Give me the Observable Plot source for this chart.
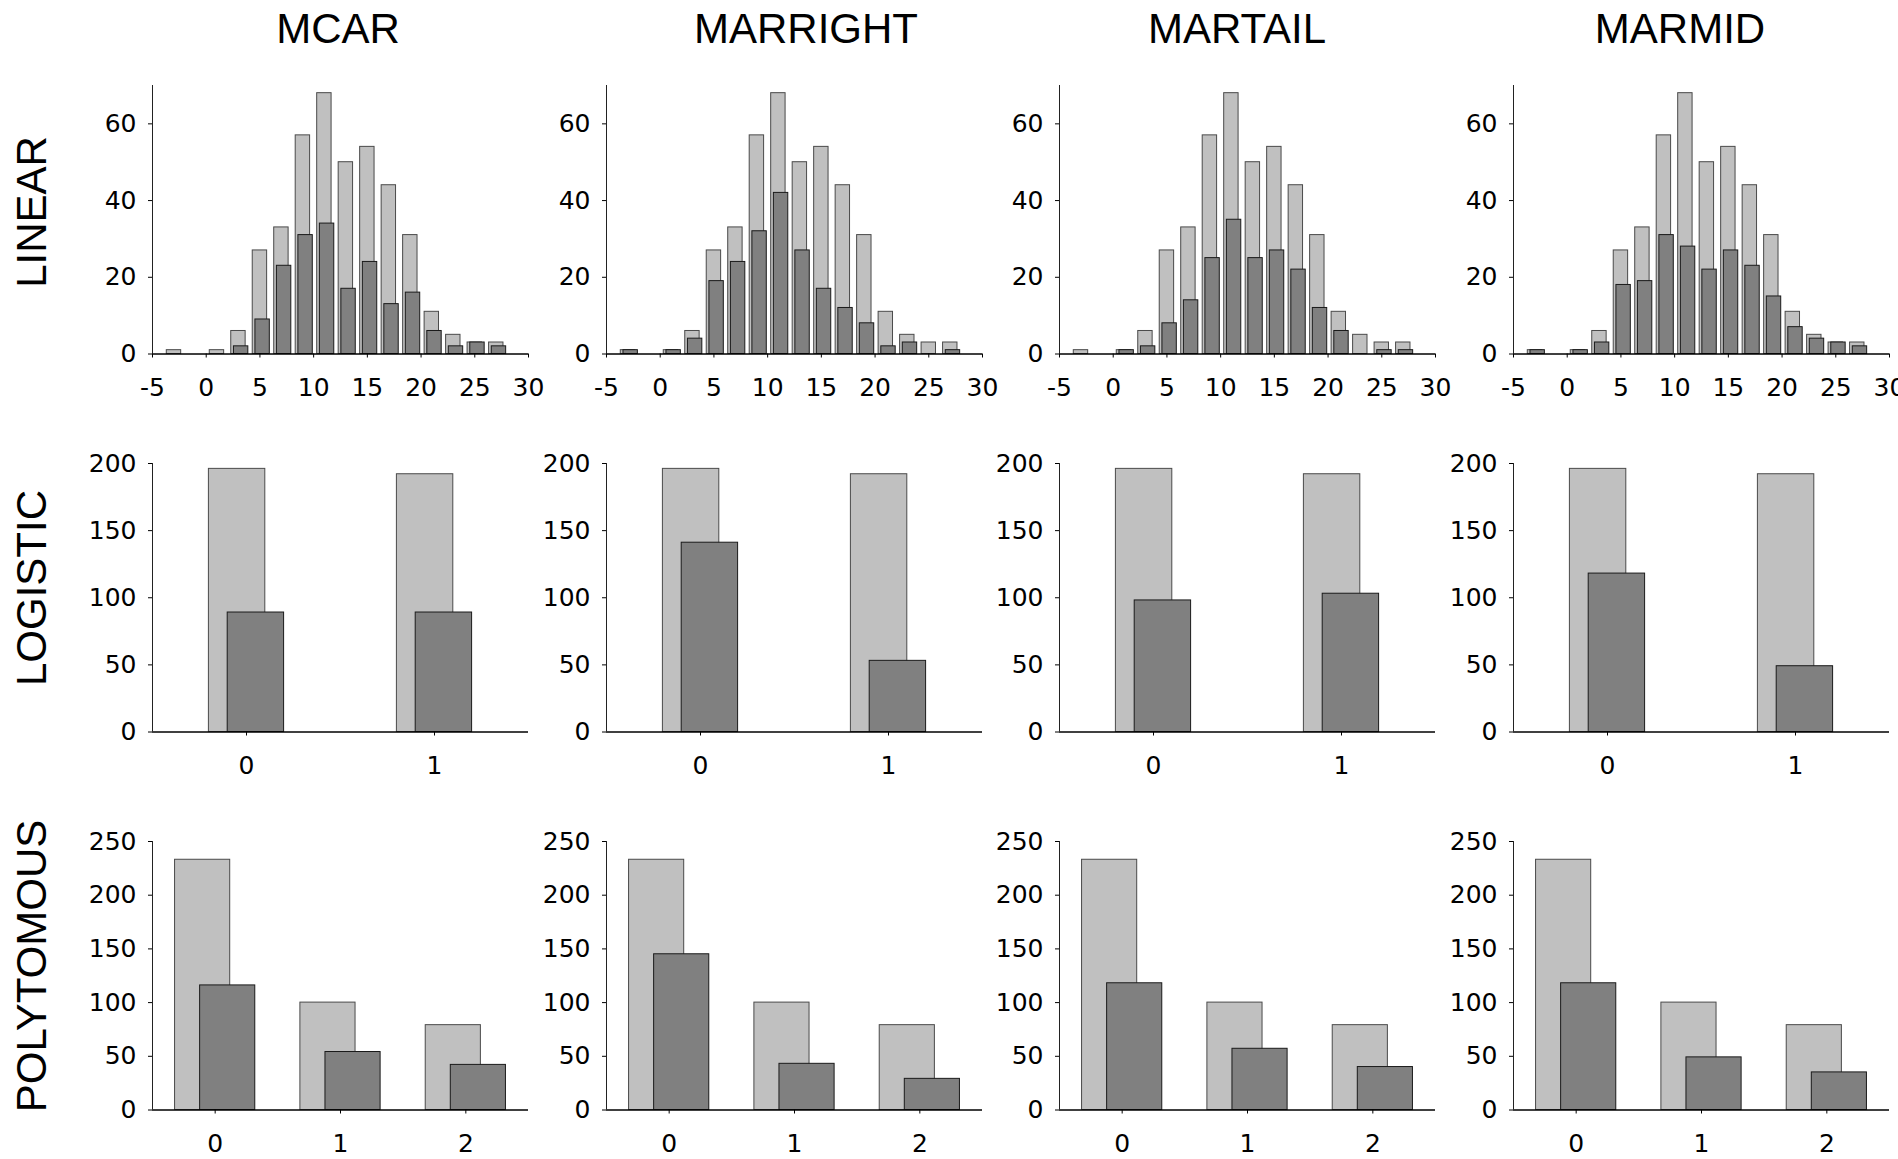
<!DOCTYPE html>
<html>
<head>
<meta charset="utf-8">
<script src="https://cdn.jsdelivr.net/npm/d3@7"></script>
<script src="https://cdn.jsdelivr.net/npm/@observablehq/plot@0.6"></script>
<style>
  html, body { margin: 0; padding: 0; background: #fff; }
  body { width: 1898px; height: 1159px; position: relative; overflow: hidden; }
  .panel { position: absolute; }
  .panel svg { max-width: none !important; display: block; }
  .title { position: absolute; font-family: "Liberation Sans", Arial, sans-serif; font-size: 42px; line-height: 1; color: #000; white-space: nowrap; transform: translate(-50%, -50%); }
  .rowlab { position: absolute; font-family: "Liberation Sans", Arial, sans-serif; font-size: 42px; line-height: 1; color: #000; white-space: nowrap; transform: translate(-50%, -50%) rotate(-90deg); }
</style>
</head>
<body>
<script>
// ---- data ----
const methods = ["MCAR", "MARRIGHT", "MARTAIL", "MARMID"];
const models = ["LINEAR", "LOGISTIC", "POLYTOMOUS"];

const linearBins = [-3, 1, 3, 5, 7, 9, 11, 13, 15, 17, 19, 21, 23, 25, 27];
const linearFull = [1, 1, 6, 27, 33, 57, 68, 50, 54, 44, 31, 11, 5, 3, 3];
const linearMCAR = [0, 0, 2, 9, 23, 31, 34, 17, 24, 13, 16, 6, 2, 3, 2];
const linearMARRIGHT = [1, 1, 4, 19, 24, 32, 42, 27, 17, 12, 8, 2, 3, 0, 1];
const linearMARTAIL = [0, 1, 2, 8, 14, 25, 35, 25, 27, 22, 12, 6, 0, 1, 1];
const linearMARMID = [1, 1, 3, 18, 19, 31, 28, 22, 27, 23, 15, 7, 4, 3, 2];
const linearXTicks = [-5, 0, 5, 10, 15, 20, 25, 30];
const linearYTicks = [0, 20, 40, 60];

const logisticCats = [0, 1];
const logisticFull = [196, 192];
const logisticMCAR = [89, 89];
const logisticMARRIGHT = [141, 53];
const logisticMARTAIL = [98, 103];
const logisticMARMID = [118, 49];
const logisticYTicks = [0, 50, 100, 150, 200];

const polyCats = [0, 1, 2];
const polyFull = [233, 100, 79];
const polyMCAR = [116, 54, 42];
const polyMARRIGHT = [145, 43, 29];
const polyMARTAIL = [118, 57, 40];
const polyMARMID = [118, 49, 35];
const polyYTicks = [0, 50, 100, 150, 200, 250];

// ---- configuration (layout & style) ----
const rowsCfg = [
  { cats: linearBins, full: linearFull,
    missing: [linearMCAR, linearMARRIGHT, linearMARTAIL, linearMARMID],
    xDomain: [-5, 30], xTicks: linearXTicks, yDomain: [0, 70], yTicks: linearYTicks,
    lightOff: 0, darkOff: 0.25, half: 0.67 },
  { cats: logisticCats, full: logisticFull,
    missing: [logisticMCAR, logisticMARRIGHT, logisticMARTAIL, logisticMARMID],
    xDomain: [-0.5, 1.5], xTicks: logisticCats, yDomain: [0, 200], yTicks: logisticYTicks,
    lightOff: -0.05, darkOff: 0.05, half: 0.15 },
  { cats: polyCats, full: polyFull,
    missing: [polyMCAR, polyMARRIGHT, polyMARTAIL, polyMARMID],
    xDomain: [-0.5, 2.5], xTicks: polyCats, yDomain: [0, 250], yTicks: polyYTicks,
    lightOff: -0.1, darkOff: 0.1, half: 0.22 }
];

const FW = 376, FH = 268.5;
const colLeft = [152, 605.5, 1059, 1512.5];
const rowTop = [85, 463.3, 841];
const mL = 80, mR = 24, mT = 10, mB = 56;
const titleX = [338, 806, 1237, 1680], titleY = 28.5;
const rowLabX = 31.7, rowLabY = [212, 588, 966];

rowsCfg.forEach((cfg, r) => {
  methods.forEach((m, c) => {
    const full = cfg.cats.map((k, i) => ({ k, v: cfg.full[i] }));
    const miss = cfg.cats.map((k, i) => ({ k, v: cfg.missing[c][i] })).filter(d => d.v > 0);
    const chart = Plot.plot({
      width: FW + mL + mR,
      height: FH + mT + mB,
      marginLeft: mL, marginRight: mR, marginTop: mT, marginBottom: mB,
      style: { fontFamily: "DejaVu Sans, sans-serif", fontSize: "25px", color: "#000", background: "transparent", overflow: "visible" },
      x: { type: "linear", domain: cfg.xDomain },
      y: { type: "linear", domain: cfg.yDomain },
      marks: [
        Plot.rectY(full, { x1: d => d.k + cfg.lightOff - cfg.half, x2: d => d.k + cfg.lightOff + cfg.half,
          y1: 0, y2: "v", fill: "#c0c0c0", stroke: "#4a4a4a", strokeWidth: 1 }),
        Plot.rectY(miss, { x1: d => d.k + cfg.darkOff - cfg.half, x2: d => d.k + cfg.darkOff + cfg.half,
          y1: 0, y2: "v", fill: "#808080", stroke: "#1a1a1a", strokeWidth: 1 }),
        Plot.ruleY([0], { stroke: "#000", strokeWidth: 1.3 }),
        Plot.ruleX([cfg.xDomain[0]], { y1: cfg.yDomain[0], y2: cfg.yDomain[1], stroke: "#222", strokeWidth: 1 }),
        Plot.axisX({ ticks: cfg.xTicks, tickSize: 4, tickPadding: 20, tickFormat: d => String(d), label: null }),
        Plot.axisY({ ticks: cfg.yTicks, tickSize: 4, tickPadding: 12, tickFormat: d => String(d), label: null })
      ]
    });
    const div = document.createElement("div");
    div.className = "panel";
    div.style.left = (colLeft[c] - mL) + "px";
    div.style.top = (rowTop[r] - mT) + "px";
    div.style.width = (FW + mL + mR) + "px";
    div.appendChild(chart);
    document.body.appendChild(div);
  });
});

methods.forEach((m, c) => {
  const t = document.createElement("div");
  t.className = "title";
  t.textContent = m;
  t.style.left = titleX[c] + "px";
  t.style.top = titleY + "px";
  document.body.appendChild(t);
});
models.forEach((m, r) => {
  const t = document.createElement("div");
  t.className = "rowlab";
  t.textContent = m;
  t.style.left = rowLabX + "px";
  t.style.top = rowLabY[r] + "px";
  document.body.appendChild(t);
});
</script>
</body>
</html>
